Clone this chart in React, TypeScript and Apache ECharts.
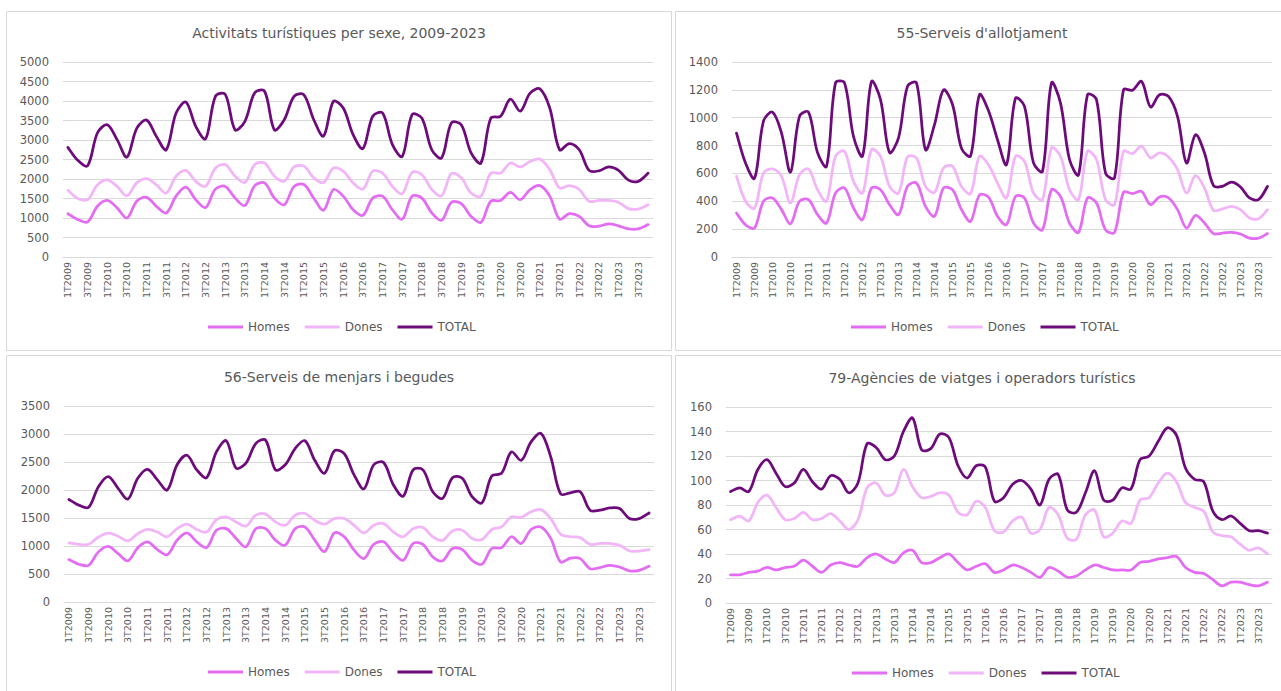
import React, { useEffect, useRef } from "react";
import * as echarts from "echarts";

const years = [2009, 2010, 2011, 2012, 2013, 2014, 2015, 2016, 2017, 2018, 2019, 2020, 2021, 2022, 2023];
const quarters = ["1T", "2T", "3T", "4T"];
const categories = years.flatMap((y) => quarters.map((q) => `${q}${y}`));

const seriesNames = ["Homes", "Dones", "TOTAL"];

const panelTitles = [
  "Activitats turístiques per sexe, 2009-2023",
  "55-Serveis d'allotjament",
  "56-Serveis de menjars i begudes",
  "79-Agències de viatges i operadors turístics",
];

// Activitats turístiques
const actHomes = [1110, 960, 900, 1300, 1450, 1260, 1000, 1430, 1530, 1300, 1130, 1560, 1790, 1470, 1270, 1740, 1810, 1510, 1320, 1830, 1900, 1510, 1340, 1810, 1860, 1510, 1200, 1730, 1560, 1210, 1070, 1510, 1560, 1210, 970, 1560, 1510, 1130, 940, 1400, 1370, 1040, 890, 1430, 1450, 1660, 1470, 1730, 1830, 1560, 970, 1110, 1040, 800, 790, 850, 800, 720, 720, 830];
const actDones = [1710, 1500, 1470, 1850, 1980, 1810, 1570, 1900, 2010, 1850, 1640, 2070, 2220, 1940, 1810, 2280, 2370, 2070, 1910, 2370, 2410, 2070, 1940, 2310, 2330, 2030, 1910, 2280, 2200, 1900, 1740, 2200, 2150, 1810, 1620, 2170, 2110, 1730, 1570, 2140, 2030, 1640, 1560, 2150, 2150, 2410, 2310, 2450, 2510, 2240, 1770, 1830, 1730, 1430, 1450, 1450, 1400, 1240, 1230, 1340];
const actTotal = [2812, 2480, 2340, 3180, 3390, 3010, 2560, 3300, 3510, 3090, 2750, 3690, 3970, 3350, 3030, 4120, 4170, 3260, 3480, 4210, 4250, 3260, 3520, 4120, 4160, 3520, 3100, 3990, 3820, 3140, 2780, 3610, 3690, 2880, 2580, 3650, 3560, 2750, 2540, 3440, 3390, 2670, 2410, 3560, 3610, 4050, 3740, 4200, 4310, 3820, 2750, 2910, 2750, 2220, 2210, 2310, 2220, 1970, 1940, 2150];

// 55-Serveis d'allotjament
const allHomes = [316, 232, 208, 400, 424, 340, 239, 400, 412, 304, 244, 459, 495, 352, 268, 495, 483, 376, 304, 507, 531, 364, 292, 495, 483, 340, 256, 445, 430, 292, 232, 435, 424, 244, 196, 483, 435, 244, 177, 424, 388, 196, 177, 464, 455, 471, 376, 431, 424, 340, 208, 299, 244, 168, 172, 177, 165, 136, 136, 168];
const allDones = [580, 400, 350, 603, 632, 579, 388, 591, 632, 483, 400, 723, 759, 543, 459, 771, 723, 507, 459, 718, 711, 507, 464, 639, 651, 507, 455, 723, 663, 531, 424, 723, 687, 459, 412, 783, 723, 483, 412, 759, 699, 412, 376, 759, 742, 795, 711, 747, 718, 627, 459, 584, 495, 335, 345, 364, 340, 280, 275, 340];
const allTotal = [890, 675, 565, 975, 1040, 890, 610, 1010, 1040, 750, 650, 1250, 1250, 865, 725, 1260, 1130, 750, 855, 1225, 1250, 770, 950, 1200, 1095, 780, 725, 1165, 1050, 842, 663, 1140, 1082, 675, 615, 1250, 1105, 700, 590, 1165, 1130, 603, 567, 1200, 1197, 1261, 1077, 1165, 1153, 1010, 675, 878, 747, 512, 507, 538, 503, 424, 412, 507];

// 56-Serveis de menjars i begudes
const menHomes = [757, 675, 655, 895, 995, 865, 735, 970, 1075, 935, 845, 1105, 1235, 1075, 970, 1280, 1310, 1135, 985, 1310, 1310, 1105, 1015, 1310, 1340, 1105, 900, 1235, 1165, 925, 775, 1030, 1075, 875, 745, 1045, 1030, 805, 735, 955, 935, 745, 675, 955, 970, 1165, 1045, 1295, 1340, 1135, 715, 785, 775, 595, 615, 655, 625, 555, 565, 640];
const menDones = [1055, 1030, 1030, 1160, 1230, 1175, 1090, 1220, 1295, 1250, 1165, 1310, 1390, 1295, 1250, 1470, 1520, 1430, 1355, 1550, 1570, 1430, 1370, 1550, 1580, 1460, 1390, 1490, 1490, 1370, 1235, 1370, 1400, 1250, 1165, 1310, 1330, 1165, 1100, 1270, 1280, 1135, 1115, 1295, 1340, 1520, 1510, 1610, 1650, 1490, 1210, 1165, 1150, 1030, 1045, 1045, 1015, 910, 910, 935];
const menTotal = [1830, 1730, 1690, 2060, 2240, 2030, 1840, 2210, 2370, 2180, 2000, 2450, 2620, 2360, 2220, 2680, 2880, 2390, 2480, 2830, 2890, 2360, 2450, 2740, 2880, 2530, 2300, 2700, 2650, 2270, 2020, 2450, 2490, 2090, 1890, 2360, 2360, 1970, 1850, 2220, 2210, 1880, 1770, 2250, 2300, 2680, 2530, 2860, 3010, 2590, 1930, 1950, 1970, 1640, 1640, 1680, 1670, 1490, 1490, 1590];

// 79-Agències de viatges i operadors turístics
const agHomes = [23, 23, 25, 26, 29, 27, 29, 30, 35, 30, 25, 31, 33, 31, 30, 37, 40, 36, 33, 41, 43, 33, 33, 37, 40, 33, 27, 30, 32, 25, 27, 31, 29, 25, 21, 29, 26, 21, 22, 27, 31, 29, 27, 27, 27, 33, 34, 36, 37, 38, 29, 25, 24, 19, 14, 17, 17, 15, 14, 17];
const agDones = [68, 71, 67, 82, 88, 78, 68, 69, 74, 68, 69, 73, 67, 60, 68, 94, 98, 88, 90, 109, 95, 86, 87, 90, 88, 74, 72, 83, 78, 59, 58, 67, 70, 57, 60, 78, 72, 53, 52, 72, 76, 54, 57, 67, 65, 84, 86, 98, 106, 99, 82, 78, 75, 58, 55, 54, 48, 43, 45, 40];
const agTotal = [91, 94, 91, 109, 117, 106, 95, 98, 109, 99, 93, 104, 101, 90, 98, 130, 127, 117, 120, 140, 151, 125, 126, 138, 135, 112, 102, 112, 111, 83, 86, 97, 100, 93, 80, 101, 105, 76, 74, 90, 108, 84, 84, 94, 93, 117, 120, 132, 143, 137, 110, 101, 99, 75, 68, 71, 65, 59, 59, 57];

const yMax = [5000, 1400, 3500, 160];
const yInterval = [500, 200, 500, 20];

const panelData = [
  [actHomes, actDones, actTotal],
  [allHomes, allDones, allTotal],
  [menHomes, menDones, menTotal],
  [agHomes, agDones, agTotal],
];

const COLORS = ["#E36CF3", "#F2B5F8", "#6D0B7B"];
const TEXT = "#595959";
const GRIDC = "#D9D9D9";
const FONT = "DejaVu Sans";

// layout
const grids = [
  { left: 63, top: 62, width: 590, height: 195 },
  { left: 732, top: 62, width: 540, height: 195 },
  { left: 64, top: 406, width: 590, height: 196 },
  { left: 726, top: 407, width: 546, height: 196 },
];
const boxes = [
  { x: 6.5, y: 11.5, width: 665, height: 339 },
  { x: 675.5, y: 11.5, width: 614, height: 339 },
  { x: 6.5, y: 355.5, width: 665, height: 345 },
  { x: 675.5, y: 355.5, width: 614, height: 345 },
];
const titlePos = [
  [339, 33],
  [982, 33],
  [339, 377],
  [982, 378],
];
const legendPos = [
  [208, 321],
  [851, 321],
  [208, 666],
  [852, 667],
];

// Excel-like smoothed path: cubic Bezier with control arms weighted by segment lengths
function smoothPath(pts: number[][]): string {
  const dist = (a: number[], b: number[]) => Math.hypot(b[0] - a[0], b[1] - a[1]);
  let d = `M${pts[0][0]},${pts[0][1]}`;
  for (let i = 0; i < pts.length - 1; i++) {
    const p0 = pts[i - 1] || pts[i];
    const p1 = pts[i];
    const p2 = pts[i + 1];
    const p3 = pts[i + 2] || p2;
    const d01 = dist(p0, p1);
    const d12 = dist(p1, p2);
    const d23 = dist(p2, p3);
    const f1 = d01 + d12 > 0 ? (d12 / (d01 + d12)) / 3 : 0;
    const f2 = d12 + d23 > 0 ? (d12 / (d12 + d23)) / 3 : 0;
    const a1 = i === 0 ? 1 / 6 : f1;
    const a2 = i === pts.length - 2 ? 1 / 6 : f2;
    const c1x = p1[0] + (p2[0] - p0[0]) * a1;
    const c1y = p1[1] + (p2[1] - p0[1]) * a1;
    const c2x = p2[0] - (p3[0] - p1[0]) * a2;
    const c2y = p2[1] - (p3[1] - p1[1]) * a2;
    d += ` C${c1x},${c1y} ${c2x},${c2y} ${p2[0]},${p2[1]}`;
  }
  return d;
}

export default function App() {
  const ref = useRef<HTMLDivElement>(null);

  useEffect(() => {
    if (!ref.current) return;
    const chart = echarts.init(ref.current, undefined, { renderer: "svg" });

    const graphic: any[] = [];
    boxes.forEach((b) => {
      graphic.push({
        type: "rect",
        shape: { x: b.x, y: b.y, width: b.width, height: b.height },
        style: { fill: "#fff", stroke: GRIDC, lineWidth: 1 },
        z: -10,
      });
    });
    panelTitles.forEach((t, i) => {
      graphic.push({
        type: "text",
        x: titlePos[i][0],
        y: titlePos[i][1],
        style: {
          text: t,
          fill: TEXT,
          fontSize: 14,
          fontFamily: FONT,
          align: "center",
          verticalAlign: "middle",
          textAlign: "center",
          textVerticalAlign: "middle",
        },
      });
    });

    const series: any[] = [];
    panelData.forEach((arrs, p) => {
      arrs.forEach((d, s) => {
        const color = COLORS[s];
        series.push({
          type: "custom",
          name: seriesNames[s],
          xAxisIndex: p,
          yAxisIndex: p,
          data: d.map((v, i) => [i, v]),
          encode: { x: 0, y: 1 },
          color,
          itemStyle: { color },
          z: 2 + s,
          silent: true,
          renderItem: (params: any, api: any) => {
            if (params.dataIndex !== 0) return null;
            const pts = d.map((v, i) => api.coord([i, v]));
            return {
              type: "path",
              shape: { pathData: smoothPath(pts) },
              style: {
                fill: "none",
                stroke: color,
                lineWidth: 2.75,
                lineJoin: "round",
                lineCap: "round",
              },
            };
          },
        });
      });
    });

    const option: any = {
      animation: false,
      backgroundColor: "#fff",
      graphic,
      grid: grids.map((g) => ({ ...g, containLabel: false })),
      xAxis: grids.map((_, i) => ({
        type: "category",
        gridIndex: i,
        data: categories,
        boundaryGap: true,
        axisLine: { show: true, lineStyle: { color: GRIDC, width: 1 } },
        axisTick: { show: false },
        axisLabel: {
          rotate: 90,
          interval: 1,
          fontSize: 9.5,
          color: TEXT,
          fontFamily: FONT,
          margin: 5,
        },
        splitLine: { show: false },
      })),
      yAxis: grids.map((_, i) => ({
        type: "value",
        gridIndex: i,
        min: 0,
        max: yMax[i],
        interval: yInterval[i],
        axisLine: { show: false },
        axisTick: { show: false },
        axisLabel: {
          fontSize: 11.5,
          color: TEXT,
          fontFamily: FONT,
          margin: 14,
          formatter: (v: number) => String(v),
        },
        splitLine: { show: true, lineStyle: { color: GRIDC, width: 1 } },
      })),
      legend: legendPos.map((lp) => ({
        left: lp[0],
        top: lp[1],
        padding: 0,
        orient: "horizontal",
        data: seriesNames.map((n, k) => ({ name: n, itemStyle: { color: COLORS[k] } })),
        icon: "rect",
        itemWidth: 35,
        itemHeight: 3,
        itemGap: 15,
        selectedMode: false,
        textStyle: { fontSize: 12, color: TEXT, fontFamily: FONT },
      })),
      series,
    };

    chart.setOption(option);
    return () => chart.dispose();
  }, []);

  return (
    <div
      ref={ref}
      style={{ position: "fixed", left: 0, top: 0, width: 1281, height: 691, background: "#fff" }}
    />
  );
}
